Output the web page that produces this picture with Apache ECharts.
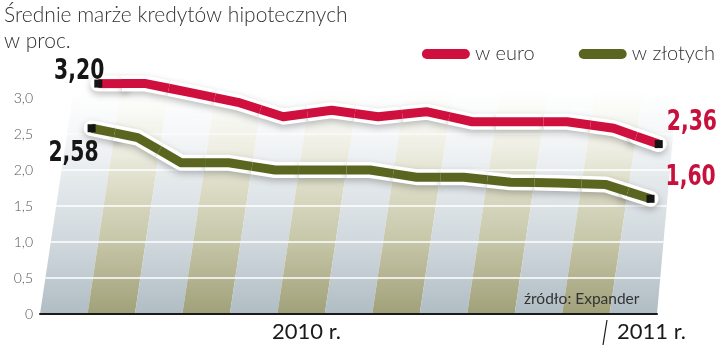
<!DOCTYPE html>
<html><head><meta charset="utf-8">
<script src="https://cdn.jsdelivr.net/npm/echarts@6/dist/echarts.min.js"></script>
<style>html,body{margin:0;padding:0;background:#fff}#c{width:720px;height:347px}</style>
</head><body><div id="c"></div>
<script>
// ---- data ----
const categories = ['I','II','III','IV','V','VI','VII','VIII','IX','X','XI','XII','I'];
const euroValues = [3.20, 3.20, 3.07, 2.94, 2.74, 2.83, 2.74, 2.81, 2.67, 2.67, 2.67, 2.58, 2.36];
const plnValues  = [2.58, 2.45, 2.10, 2.10, 2.00, 2.00, 2.00, 1.90, 1.90, 1.83, 1.82, 1.80, 1.60];
const gridValues = [0.5, 1.0, 1.5, 2.0, 2.5];
const yearLabels = ['2010 r.', '2011 r.'];
const seriesNames = ['w euro', 'w złotych'];
const titleText = 'Średnie marże kredytów hipotecznych\nw proc.';
const sourceText = 'źródło: Expander';

// ---- style ----
const RED = '#cf0f3d', GREEN = '#5a6620', LABEL_RED = '#c8103c';
const SHEAR = 0.15, RIGHT_SHEAR = 0.09, BG_TOP = 3.1;
const NUM_FONT = '"DejaVu Sans Condensed","DejaVu Sans",sans-serif';
const TXT_FONT = 'Lato, "Liberation Sans", sans-serif';

const chart = echarts.init(document.getElementById('c'), null, {renderer: 'canvas'});

function pt(api, i, v) {
  const p = api.coord([i, v]);
  const base = api.coord([i, 0])[1];
  return [p[0] + SHEAR * (base - p[1]), p[1]];
}
function fmt(v) { return v.toFixed(2).replace('.', ','); }

function segPoints(api, values, i) {
  const n = values.length;
  const p = pt(api, i, values[i]);
  const pts = [];
  if (i > 0) { const q = pt(api, i - 1, values[i - 1]); pts.push([(p[0] + q[0]) / 2, (p[1] + q[1]) / 2]); }
  pts.push(p);
  if (i < n - 1) { const q = pt(api, i + 1, values[i + 1]); pts.push([(p[0] + q[0]) / 2, (p[1] + q[1]) / 2]); }
  return {pts, p, n};
}

function haloSeries(values, name) {
  return {
    type: 'custom', name: name, z: 5,
    data: values.map((v, i) => [i, v]),
    renderItem(params, api) {
      const i = params.dataIndex;
      const s = segPoints(api, values, i);
      const end = (i === 0 || i === s.n - 1);
      return {
        type: 'polyline', shape: {points: s.pts},
        style: {stroke: '#fff', lineWidth: 16, fill: null, lineCap: end ? 'round' : 'butt', lineJoin: 'round',
          shadowColor: 'rgba(0,0,0,0.26)', shadowBlur: 7, shadowOffsetY: 3}
      };
    }
  };
}

function colorSeries(values, name, color, labelOpts) {
  return {
    type: 'custom', name: name, z: 6,
    itemStyle: {color: color},
    data: values.map((v, i) => [i, v]),
    renderItem(params, api) {
      const i = params.dataIndex;
      const s = segPoints(api, values, i);
      const children = [{
        type: 'polyline', shape: {points: s.pts},
        style: {stroke: color, lineWidth: 9, fill: null, lineCap: 'butt', lineJoin: 'round'}
      }];
      const lo = i === 0 ? labelOpts.first : (i === s.n - 1 ? labelOpts.last : null);
      if (lo) {
        children.push({type: 'rect', shape: {x: s.p[0] - 4, y: s.p[1] - 4, width: 8, height: 8},
          style: {fill: '#151515'}});
        children.push({type: 'text', x: s.p[0] + lo.dx, y: s.p[1] + lo.dy, scaleX: 0.78,
          style: {text: fmt(values[i]), fill: lo.color, font: 'bold 29px ' + NUM_FONT,
            align: lo.align, verticalAlign: 'middle'}});
      }
      return {type: 'group', children};
    }
  };
}

const stripeSeries = {
  type: 'custom', name: 'bg', z: 1, silent: true,
  data: categories.map((c, i) => [i, 0]),
  renderItem(params, api) {
    const i = params.dataIndex;
    const n = categories.length;
    const w = api.size([1, 0])[0];
    const c0 = api.coord([i, 0]);
    const top = api.coord([i, BG_TOP]);
    const h = c0[1] - top[1];
    const d = SHEAR * h;
    const dr = (i === n - 1 ? RIGHT_SHEAR : SHEAR) * h;
    const xl = c0[0] - w / 2, xr = c0[0] + w / 2;
    const dark = i % 2 === 1;
    const fill = new echarts.graphic.LinearGradient(0, 0, 0, 1, dark ? [
      {offset: 0, color: 'rgba(236,236,226,0)'},
      {offset: 0.18, color: 'rgba(236,236,224,0.6)'},
      {offset: 0.4, color: '#dfdfcb'},
      {offset: 0.68, color: '#c6c6a8'},
      {offset: 1, color: '#a0a079'}
    ] : [
      {offset: 0, color: 'rgba(240,243,245,0)'},
      {offset: 0.18, color: 'rgba(239,242,244,0.6)'},
      {offset: 0.4, color: '#e4e9ec'},
      {offset: 0.68, color: '#d0d8dd'},
      {offset: 1, color: '#b0bdc4'}
    ]);
    return {type: 'polygon', shape: {points: [[xl, c0[1]], [xr, c0[1]], [xr + dr, top[1]], [xl + d, top[1]]]},
      style: {fill: fill}};
  }
};

const gridSeries = {
  type: 'custom', name: 'gridlines', z: 2, silent: true,
  data: gridValues.map(v => [0, v]),
  renderItem(params, api) {
    const v = api.value(1);
    const n = categories.length;
    const w = api.size([1, 0])[0];
    const a = pt(api, 0, v);
    const b = api.coord([n - 1, v]);
    const base = api.coord([n - 1, 0])[1];
    const xr = b[0] + w / 2 + RIGHT_SHEAR * (base - b[1]);
    return {type: 'line', shape: {x1: a[0] - w / 2, y1: a[1], x2: xr, y2: b[1]},
      style: {stroke: '#fff', lineWidth: 1.6, opacity: v > 2.2 ? 0.6 : 1}};
  }
};

const option = {
  animation: false,
  title: {text: titleText, left: -1, top: -3,
    textStyle: {fontSize: 21, fontWeight: 300, color: '#333', lineHeight: 26, fontFamily: TXT_FONT}},
  legend: {
    data: [
      {name: seriesNames[0], icon: 'path://M5,0H43A5,5 0 0 1 43,10H5A5,5 0 0 1 5,0Z'},
      {name: seriesNames[1], icon: 'path://M5,0H43A5,5 0 0 1 43,10H5A5,5 0 0 1 5,0Z'}
    ],
    right: 0, top: 39, itemWidth: 48, itemHeight: 10, itemGap: 44,
    textStyle: {fontSize: 20, color: '#333', fontWeight: 300, fontFamily: TXT_FONT}
  },
  grid: {left: 40, right: 63, top: 62, bottom: 33},
  xAxis: {
    type: 'category', data: categories, boundaryGap: true, z: 10,
    axisLine: {lineStyle: {color: '#1a1a1a', width: 2}},
    axisTick: {show: false}, axisLabel: {show: false}, splitLine: {show: false}
  },
  yAxis: {
    type: 'value', min: 0, max: 3.5, interval: 0.5,
    axisLine: {show: false}, axisTick: {show: false}, splitLine: {show: false},
    axisLabel: {margin: 7, color: '#555', fontSize: 14, fontWeight: 300, fontFamily: TXT_FONT,
      formatter: v => v > 3.01 ? '' : (v === 0 ? '0' : v.toFixed(1).replace('.', ','))}
  },
  graphic: [
    {type: 'text', left: 272, top: 321, style: {text: yearLabels[0], font: '22px ' + TXT_FONT, fill: '#1a1a1a'}},
    {type: 'text', left: 617, top: 321, style: {text: yearLabels[1], font: '22px ' + TXT_FONT, fill: '#1a1a1a'}},
    {type: 'line', shape: {x1: 607, y1: 320, x2: 603, y2: 345}, style: {stroke: '#1a1a1a', lineWidth: 1.2}},
    {type: 'text', left: 524, top: 291, z: 20, style: {text: sourceText, font: '15.5px ' + TXT_FONT, fill: '#333'}}
  ],
  series: [
    stripeSeries, gridSeries,
    haloSeries(euroValues, 'halo-euro'), haloSeries(plnValues, 'halo-pln'),
    colorSeries(euroValues, seriesNames[0], RED, {
      first: {dx: 6, dy: -12, align: 'right', color: '#161616'},
      last: {dx: 8, dy: -22, align: 'left', color: LABEL_RED}}),
    colorSeries(plnValues, seriesNames[1], GREEN, {
      first: {dx: 7, dy: 25, align: 'right', color: '#161616'},
      last: {dx: 15, dy: -21, align: 'left', color: LABEL_RED}})
  ]
};
chart.setOption(option);
</script></body></html>
